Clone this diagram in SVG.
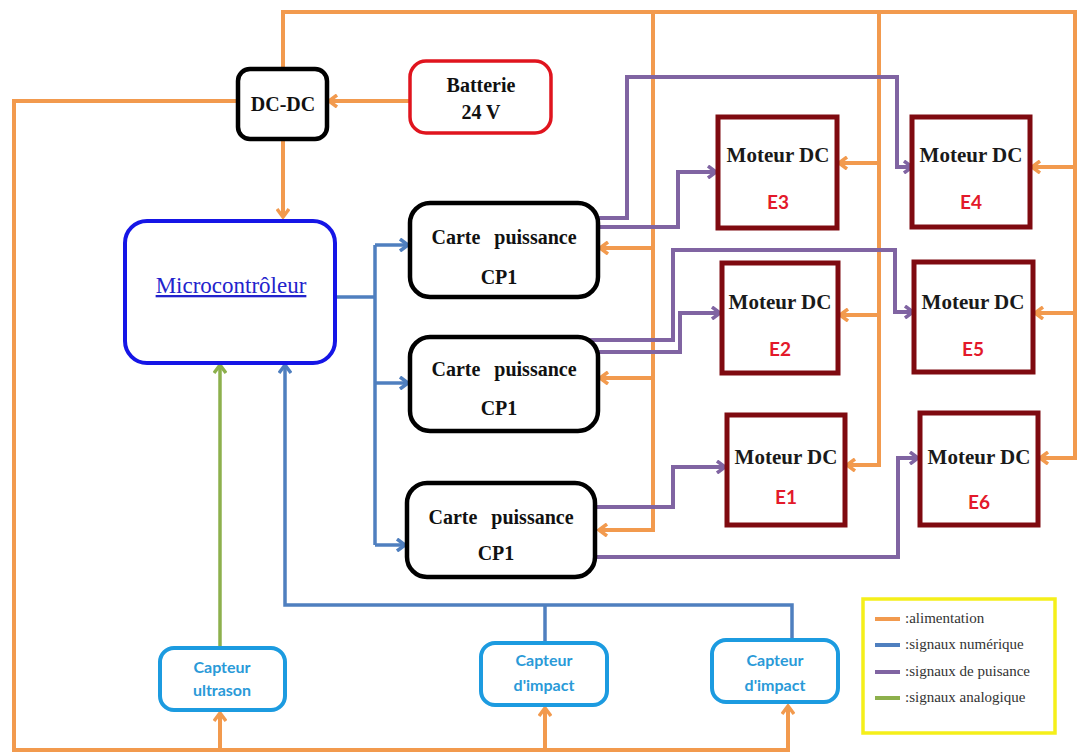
<svg xmlns="http://www.w3.org/2000/svg" width="1078" height="756" viewBox="0 0 1078 756">
  <style>
    .pw { fill: none; stroke: #f29a4e; stroke-width: 4; stroke-linejoin: miter; }
    .num { fill: none; stroke: #4f7fbf; stroke-width: 3.5; }
    .pui { fill: none; stroke: #8064a2; stroke-width: 4; }
    .ana { fill: none; stroke: #8db04c; stroke-width: 3.5; }
    .box-k { fill: #fff; stroke: #000; stroke-width: 4.5; }
    .box-mot { fill: #fff; stroke: #7f0a10; stroke-width: 5; }
    .box-cap { fill: #fff; stroke: #1c9be0; stroke-width: 4; }
    .lbl { font-family: "Liberation Serif", "Times New Roman", serif; font-weight: bold; font-size: 20px; fill: #111; text-anchor: middle; }
    .mot { font-family: "Liberation Serif", "Times New Roman", serif; font-weight: bold; font-size: 21px; fill: #1a1a1a; text-anchor: middle; }
    .eid { font-family: Lato, "Liberation Sans", sans-serif; font-weight: bold; font-size: 19px; fill: #e3192a; text-anchor: middle; }
    .cap { font-family: Lato, "Liberation Sans", sans-serif; font-weight: bold; font-size: 16px; fill: #2a9ad8; text-anchor: middle; }
    .leg { font-family: "Liberation Serif", "Times New Roman", serif; font-size: 15px; fill: #333; }
  </style>
  <defs>
    <marker id="aO" viewBox="0 0 12 14" markerWidth="12" markerHeight="14" refX="10" refY="7" orient="auto" markerUnits="userSpaceOnUse">
      <path d="M2,1 L10,7 L2,13" fill="none" stroke="#f29a4e" stroke-width="3.5"/>
    </marker>
    <marker id="aB" viewBox="0 0 12 14" markerWidth="12" markerHeight="14" refX="10" refY="7" orient="auto" markerUnits="userSpaceOnUse">
      <path d="M2,1 L10,7 L2,13" fill="none" stroke="#4f7fbf" stroke-width="3.5"/>
    </marker>
    <marker id="aP" viewBox="0 0 12 14" markerWidth="12" markerHeight="14" refX="10" refY="7" orient="auto" markerUnits="userSpaceOnUse">
      <path d="M2,1 L10,7 L2,13" fill="none" stroke="#8064a2" stroke-width="3.5"/>
    </marker>
    <marker id="aG" viewBox="0 0 12 14" markerWidth="12" markerHeight="14" refX="10" refY="7" orient="auto" markerUnits="userSpaceOnUse">
      <path d="M2,1 L10,7 L2,13" fill="none" stroke="#8db04c" stroke-width="3.5"/>
    </marker>
  </defs>

  <rect width="1078" height="756" fill="#fff"/>

  <g id="connectors">
    <!-- power supply (orange) -->
    <path class="pw" d="M283,69 V12 H1075 V458 H1040" marker-end="url(#aO)"/>
    <path class="pw" d="M1075,167 H1032" marker-end="url(#aO)"/>
    <path class="pw" d="M1075,313 H1035" marker-end="url(#aO)"/>
    <path class="pw" d="M653,12 V530 H599" marker-end="url(#aO)"/>
    <path class="pw" d="M653,248 H600" marker-end="url(#aO)"/>
    <path class="pw" d="M653,378 H600" marker-end="url(#aO)"/>
    <path class="pw" d="M879,12 V465 H847" marker-end="url(#aO)"/>
    <path class="pw" d="M879,163 H839" marker-end="url(#aO)"/>
    <path class="pw" d="M879,315 H840" marker-end="url(#aO)"/>
    <path class="pw" d="M410,101 H329" marker-end="url(#aO)"/>
    <path class="pw" d="M283,139 V217" marker-end="url(#aO)"/>
    <path class="pw" d="M238,101 H14 V750 H788 V706" marker-end="url(#aO)"/>
    <path class="pw" d="M220,750 V713" marker-end="url(#aO)"/>
    <path class="pw" d="M545,750 V708" marker-end="url(#aO)"/>

    <!-- digital signals (blue) -->
    <path class="num" d="M336,297 H375"/>
    <path class="num" d="M375,245 V545"/>
    <path class="num" d="M375,245 H408" marker-end="url(#aB)"/>
    <path class="num" d="M375,383 H408" marker-end="url(#aB)"/>
    <path class="num" d="M375,545 H405" marker-end="url(#aB)"/>
    <path class="num" d="M792,641 V605 H285 V365" marker-end="url(#aB)"/>
    <path class="num" d="M545,644 V605"/>

    <!-- analog signal (green) -->
    <path class="ana" d="M220,649 V365" marker-end="url(#aG)"/>

    <!-- power signals (purple) -->
    <path class="pui" d="M597,218 H627 V77 H897 V167 H912" marker-end="url(#aP)"/>
    <path class="pui" d="M598,227 H678 V172 H716" marker-end="url(#aP)"/>
    <path class="pui" d="M584,340 H673 V250 H895 V312 H913" marker-end="url(#aP)"/>
    <path class="pui" d="M598,352 H680 V313 H720" marker-end="url(#aP)"/>
    <path class="pui" d="M594,507 H673 V467 H725" marker-end="url(#aP)"/>
    <path class="pui" d="M594,557 H898 V458 H918" marker-end="url(#aP)"/>
  </g>

  <g id="dcdc">
    <rect class="box-k" x="238" y="69" width="89" height="70" rx="12"/>
    <text class="lbl" x="283" y="111" font-size="21">DC-DC</text>
  </g>

  <g id="batterie">
    <rect x="410" y="61" width="141" height="72" rx="16" fill="#fff" stroke="#e0141e" stroke-width="3.5"/>
    <text class="lbl" x="481" y="92">Batterie</text>
    <text class="lbl" x="481" y="119">24 V</text>
  </g>

  <g id="microcontroleur">
    <rect x="125" y="221" width="210" height="142" rx="22" fill="#fff" stroke="#1515e6" stroke-width="4"/>
    <text x="231" y="293" font-family="'Liberation Serif', 'Times New Roman', serif" font-size="23" fill="#2323cc" text-anchor="middle" text-decoration="underline">Microcontrôleur</text>
  </g>

  <g id="cp-a">
    <rect class="box-k" x="410" y="203" width="188" height="94" rx="20"/>
    <text class="lbl" x="504" y="244" word-spacing="9">Carte puissance</text>
    <text class="lbl" x="499" y="284">CP1</text>
  </g>
  <g id="cp-b">
    <rect class="box-k" x="410" y="337" width="188" height="94" rx="20"/>
    <text class="lbl" x="504" y="376" word-spacing="9">Carte puissance</text>
    <text class="lbl" x="499" y="415">CP1</text>
  </g>
  <g id="cp-c">
    <rect class="box-k" x="407" y="483" width="188" height="94" rx="20"/>
    <text class="lbl" x="501" y="524" word-spacing="9">Carte puissance</text>
    <text class="lbl" x="496" y="560">CP1</text>
  </g>

  <g id="moteur-e3">
    <rect class="box-mot" x="718" y="117" width="119" height="111"/>
    <text class="mot" x="778" y="162">Moteur DC</text>
    <text class="eid" x="778" y="209">E3</text>
  </g>
  <g id="moteur-e4">
    <rect class="box-mot" x="912" y="117" width="118" height="110"/>
    <text class="mot" x="971" y="162">Moteur DC</text>
    <text class="eid" x="971" y="209">E4</text>
  </g>
  <g id="moteur-e2">
    <rect class="box-mot" x="722" y="263" width="116" height="110"/>
    <text class="mot" x="780" y="309">Moteur DC</text>
    <text class="eid" x="780" y="356">E2</text>
  </g>
  <g id="moteur-e5">
    <rect class="box-mot" x="914" y="262" width="119" height="110"/>
    <text class="mot" x="973" y="309">Moteur DC</text>
    <text class="eid" x="973" y="356">E5</text>
  </g>
  <g id="moteur-e1">
    <rect class="box-mot" x="727" y="415" width="118" height="110"/>
    <text class="mot" x="786" y="464">Moteur DC</text>
    <text class="eid" x="786" y="504">E1</text>
  </g>
  <g id="moteur-e6">
    <rect class="box-mot" x="920" y="413" width="118" height="112"/>
    <text class="mot" x="979" y="464">Moteur DC</text>
    <text class="eid" x="979" y="509">E6</text>
  </g>

  <g id="capteur-ultrason">
    <rect class="box-cap" x="160" y="648" width="125" height="62" rx="14"/>
    <text class="cap" x="222" y="673">Capteur</text>
    <text class="cap" x="222" y="696">ultrason</text>
  </g>
  <g id="capteur-impact-1">
    <rect class="box-cap" x="481" y="643" width="126" height="62" rx="14"/>
    <text class="cap" x="544" y="666">Capteur</text>
    <text class="cap" x="544" y="691">d'impact</text>
  </g>
  <g id="capteur-impact-2">
    <rect class="box-cap" x="712" y="640" width="126" height="62" rx="14"/>
    <text class="cap" x="775" y="666">Capteur</text>
    <text class="cap" x="775" y="691">d'impact</text>
  </g>

  <g id="legende">
    <rect x="863" y="599" width="192" height="134" fill="#fff" stroke="#f5ef1a" stroke-width="3.5"/>
    <line x1="875" y1="619" x2="900" y2="619" stroke="#f29a4e" stroke-width="4"/>
    <line x1="875" y1="645" x2="900" y2="645" stroke="#4f7fbf" stroke-width="4"/>
    <line x1="875" y1="672" x2="900" y2="672" stroke="#8064a2" stroke-width="4"/>
    <line x1="875" y1="698" x2="900" y2="698" stroke="#8db04c" stroke-width="4"/>
    <text class="leg" x="905" y="623">:alimentation</text>
    <text class="leg" x="905" y="649">:signaux numérique</text>
    <text class="leg" x="905" y="676">:signaux de puisance</text>
    <text class="leg" x="905" y="702">:signaux analogique</text>
  </g>
</svg>
